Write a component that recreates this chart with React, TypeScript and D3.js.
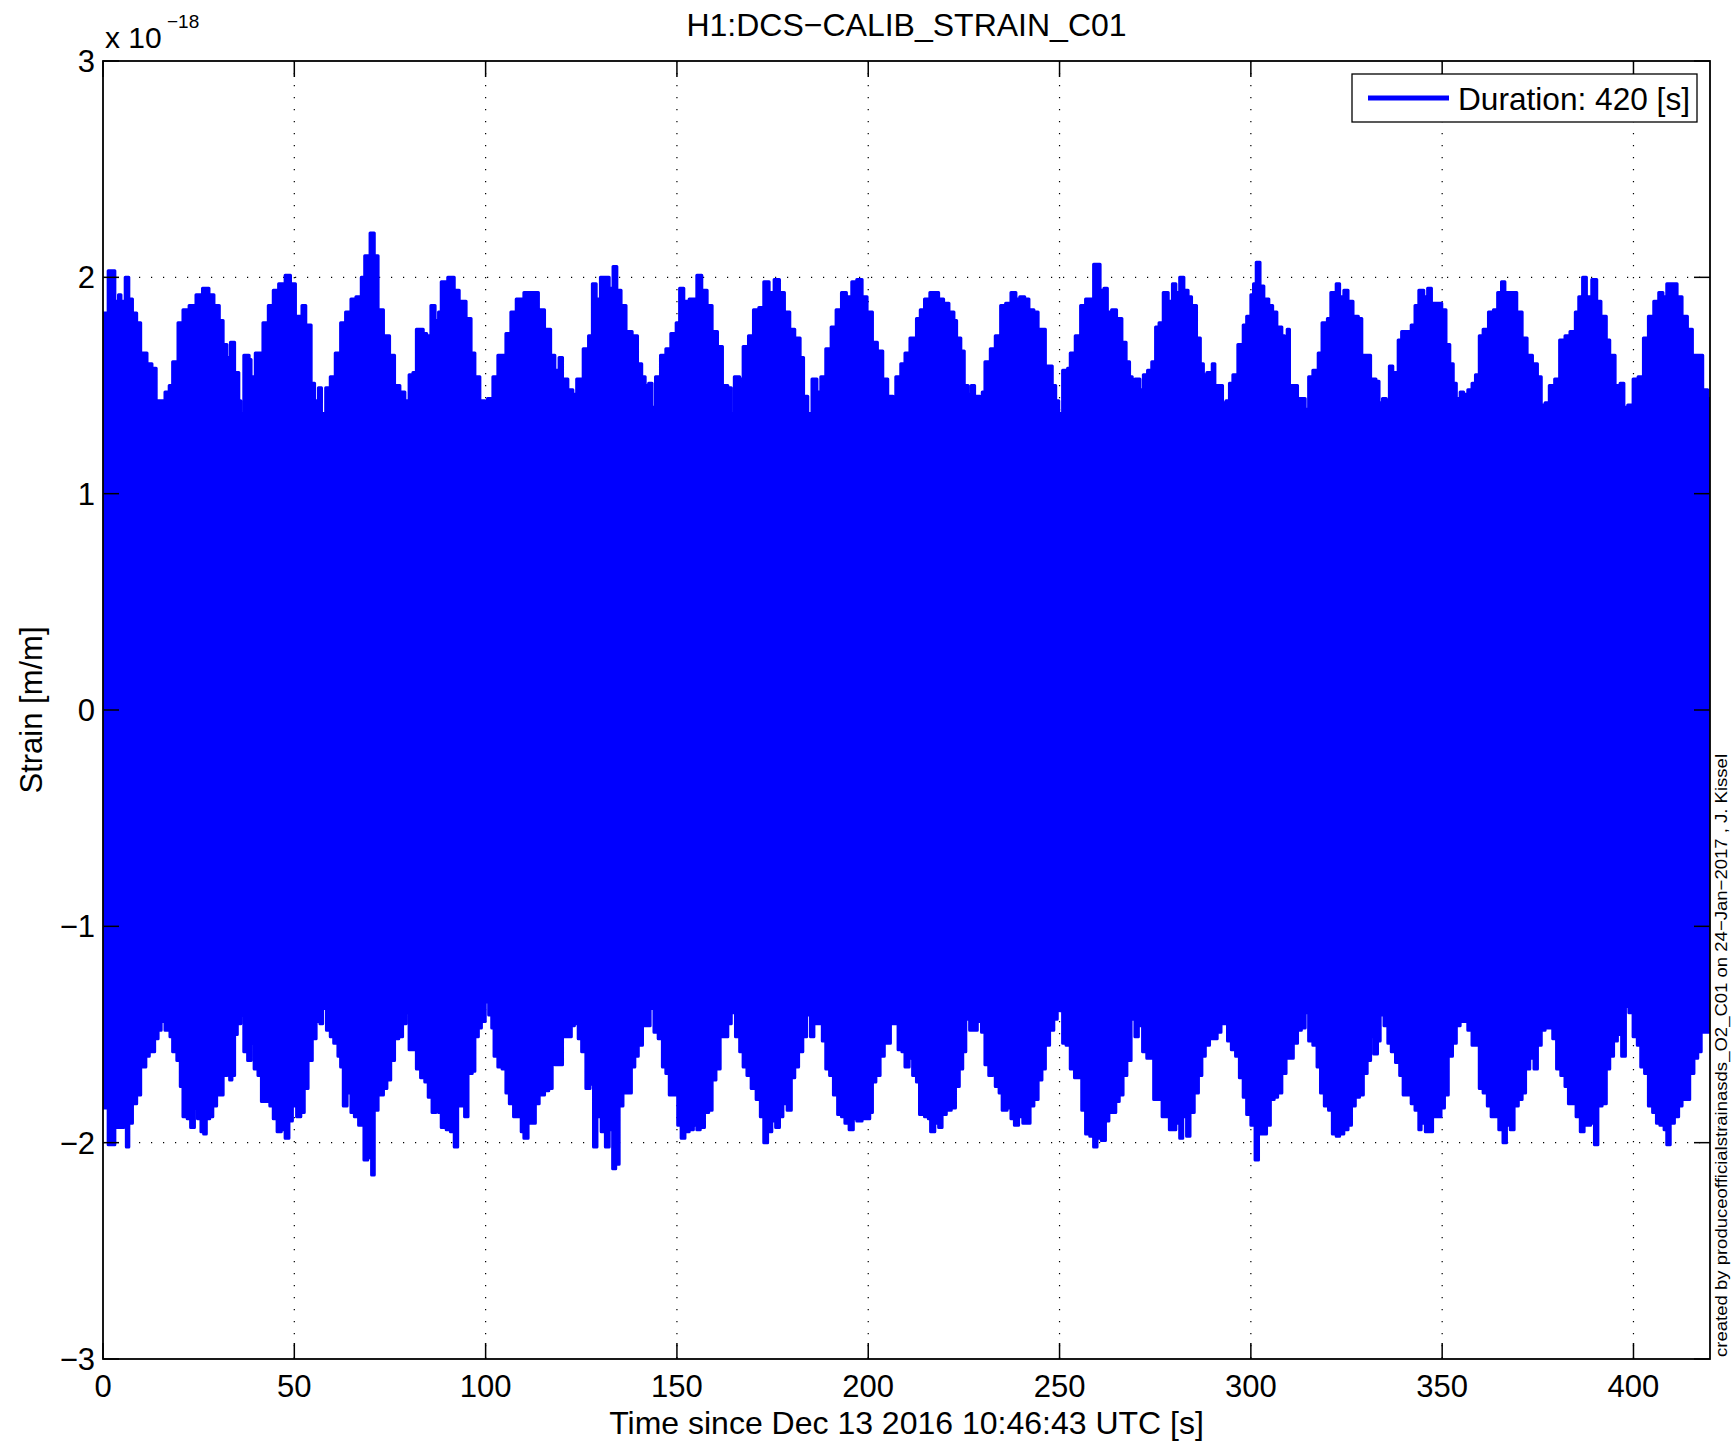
import React from "react";
import * as d3 from "d3";

// ---- data (strain in units of 1e-18, time in s) ----
const xTicks = [0, 50, 100, 150, 200, 250, 300, 350, 400];
const yTicks = [-3, -2, -1, 0, 1, 2, 3];
const yTickLabels = ["\u22123", "\u22122", "\u22121", "0", "1", "2", "3"];

const topTime = [0,1.35,2.3,3.1,4.05,4.7,5.8,6.75,7.7,8.8,9.85,11.5,12.8,13.9,15.5,16.2,17.3,18.2,19.6,20.9,22.5,24.3,26.0,27.7,29.0,30.4,31.4,32.4,33.3,34.4,35.5,36.0,36.8,38.2,38.7,39.8,41.8,43.2,44.5,45.9,47.6,49.0,50.3,52.0,53.0,54.4,55.3,56.3,57.1,58.2,59.4,60.7,62.1,63.4,64.8,66.1,67.5,68.4,69.8,70.9,71.9,73.3,74.9,76.2,77.6,78.9,80.0,81.0,81.9,83.7,84.6,85.7,86.8,87.7,88.4,90.1,91.8,93.1,94.9,96.2,97.2,98.5,99.9,100.5,101.9,103.2,105.3,106.6,108.0,110.0,112.0,113.8,115.4,117.0,118.1,119.2,120.1,121.5,122.8,123.8,125.5,126.9,127.9,128.9,130.0,130.9,132.3,133.3,134.3,135.4,136.7,138.3,139.7,140.8,141.7,142.6,143.5,144.4,145.7,147.1,148.4,149.8,150.7,151.8,153.2,155.2,156.5,157.9,159.2,160.6,161.9,163.3,164.2,165.0,166.4,167.3,168.7,170.0,171.4,172.7,174.1,175.4,176.8,178.1,179.5,180.8,182.2,183.1,184.2,185.3,186.6,187.6,188.9,190.3,191.6,193.0,194.3,195.7,197.0,198.4,199.7,201.1,202.4,203.8,205.1,206.5,207.2,208.5,209.6,210.9,212.0,212.6,213.6,214.7,216.1,217.0,218.4,219.7,221.1,222.4,223.1,224.2,225.1,226.1,226.9,227.8,229.2,229.8,230.5,231.9,233.2,234.6,235.9,237.3,238.6,239.6,240.9,242.0,243.3,244.4,245.4,246.3,247.4,248.1,249.0,249.8,250.8,252.1,252.8,254.1,255.5,256.8,257.9,258.9,259.8,260.6,261.6,262.5,263.6,264.9,266.3,267.4,268.3,269.0,269.7,271.0,271.9,273.0,274.1,275.1,276.0,277.1,278.4,279.5,280.4,281.4,282.5,283.6,284.5,285.8,286.8,287.6,288.5,289.9,290.6,291.7,292.6,293.5,294.4,295.3,296.6,298.0,298.9,300.0,300.7,301.4,302.4,303.4,304.7,305.7,306.8,308.1,308.8,309.5,310.1,311.1,312.2,313.2,314.2,315.1,316.2,317.6,318.6,320.0,320.9,322.3,323.2,324.3,325.4,326.7,328.1,329.0,330.4,331.3,332.7,333.5,334.4,335.4,336.2,337.1,338.5,339.4,340.8,341.9,342.9,343.9,345.2,346.2,347.2,348.6,349.9,351.0,352.0,352.9,353.7,354.7,355.6,356.7,357.8,358.7,359.7,360.7,362.1,363.4,364.5,365.5,366.4,368.2,369.5,370.9,372.2,373.6,374.9,375.9,376.9,378.0,379.4,380.7,382.1,383.4,384.8,385.7,386.7,387.7,389.1,390.4,391.5,392.9,393.8,395.2,396.5,397.5,398.5,399.9,401.2,402.6,403.9,405.3,406.6,407.7,408.7,410.0,411.4,412.7,414.1,415.4,416.8,418.1,419.4,420];
const topValue = [1.835,2.03,2.03,1.89,1.92,1.89,2.0,1.9,1.835,1.79,1.65,1.6,1.58,1.43,1.43,1.47,1.5,1.61,1.79,1.85,1.87,1.92,1.95,1.92,1.87,1.8,1.69,1.63,1.7,1.56,1.43,1.37,1.64,1.62,1.54,1.65,1.79,1.87,1.94,1.97,2.01,1.97,1.82,1.87,1.78,1.51,1.43,1.49,1.37,1.49,1.54,1.65,1.79,1.84,1.9,1.91,2.0,2.1,2.205,2.1,1.85,1.73,1.64,1.5,1.47,1.43,1.55,1.56,1.76,1.74,1.73,1.87,1.8,1.84,1.98,2.0,1.94,1.89,1.81,1.65,1.54,1.43,1.37,1.44,1.54,1.64,1.74,1.84,1.9,1.93,1.93,1.85,1.76,1.64,1.57,1.63,1.53,1.48,1.46,1.53,1.67,1.73,1.97,1.9,2.0,2.0,1.95,2.05,1.94,1.87,1.75,1.73,1.6,1.54,1.5,1.51,1.4,1.54,1.64,1.67,1.74,1.79,1.95,1.89,1.9,2.01,1.94,1.87,1.75,1.68,1.5,1.49,1.37,1.54,1.53,1.68,1.73,1.85,1.86,1.98,1.93,1.99,1.93,1.84,1.76,1.72,1.63,1.45,1.37,1.53,1.47,1.54,1.67,1.77,1.85,1.93,1.91,1.98,1.99,1.91,1.84,1.7,1.66,1.53,1.45,1.44,1.54,1.6,1.65,1.72,1.72,1.81,1.85,1.9,1.93,1.93,1.9,1.88,1.84,1.8,1.72,1.66,1.5,1.46,1.5,1.45,1.4,1.47,1.61,1.67,1.73,1.87,1.88,1.93,1.9,1.91,1.9,1.85,1.84,1.76,1.76,1.59,1.59,1.5,1.43,1.37,1.57,1.58,1.65,1.73,1.87,1.9,1.9,2.06,2.06,1.94,1.95,1.84,1.85,1.81,1.7,1.61,1.54,1.43,1.53,1.48,1.55,1.57,1.61,1.77,1.79,1.93,1.89,1.97,1.93,2.0,1.94,1.91,1.87,1.72,1.6,1.55,1.56,1.6,1.5,1.5,1.42,1.43,1.51,1.55,1.69,1.78,1.82,1.92,1.97,2.07,1.96,1.9,1.87,1.84,1.77,1.73,1.54,1.76,1.5,1.5,1.44,1.44,1.39,1.54,1.57,1.65,1.79,1.81,1.93,1.97,1.91,1.94,1.89,1.82,1.81,1.64,1.64,1.53,1.52,1.42,1.44,1.43,1.59,1.56,1.71,1.75,1.75,1.78,1.87,1.94,1.91,1.95,1.88,1.88,1.85,1.69,1.6,1.51,1.44,1.47,1.46,1.48,1.51,1.55,1.73,1.76,1.84,1.85,1.93,1.98,1.93,1.93,1.84,1.72,1.64,1.6,1.54,1.41,1.42,1.5,1.53,1.71,1.73,1.75,1.84,1.91,2.0,1.91,1.99,1.89,1.82,1.71,1.64,1.5,1.51,1.4,1.41,1.53,1.54,1.72,1.82,1.89,1.93,1.91,1.97,1.97,1.91,1.82,1.76,1.64,1.64,1.48,1.44,1.44];

const bottomTime = [0,1.35,2.3,3.1,4.45,5.4,6.1,6.75,7.7,8.8,9.85,11.2,12.1,13.5,14.4,15.2,16.2,17.5,18.2,19.3,20.2,20.9,22.0,22.9,23.9,24.7,25.6,26.3,27.0,27.9,28.7,29.7,30.6,31.4,32.4,33.1,33.7,34.4,35.1,36.0,36.8,37.8,38.7,39.5,40.5,41.4,42.5,43.6,44.5,45.5,46.6,47.6,48.6,49.5,50.6,51.7,52.6,53.6,54.7,55.7,56.7,57.4,58.4,59.4,60.3,61.4,62.1,62.8,63.8,64.8,65.7,66.8,68.2,69.2,70.2,70.9,71.9,73.3,74.2,75.2,76.2,77.3,78.3,79.2,80.0,81.0,81.9,83.0,84.1,85.0,86.0,87.0,87.7,88.4,89.7,90.8,91.8,92.7,93.5,94.5,95.4,96.5,97.2,98.1,98.9,99.9,100.8,101.6,102.2,103.2,104.3,105.3,106.2,107.3,108.4,109.3,110.0,111.1,112.0,113.0,114.0,115.4,116.5,117.4,118.1,119.2,120.1,121.5,122.4,123.2,124.2,125.1,126.2,127.3,128.2,129.1,130.2,131.3,132.3,133.2,134.0,134.9,135.9,137.0,138.1,139.0,139.9,141.0,142.1,143.0,144.0,145.1,146.2,147.1,148.0,149.1,150.2,151.1,152.1,153.2,154.3,155.2,156.1,157.2,158.3,159.2,160.2,161.3,162.3,163.3,164.2,165.3,166.4,167.3,168.3,169.4,170.7,171.8,172.7,173.7,174.8,175.8,176.8,177.7,178.8,179.9,180.8,181.8,182.9,183.9,184.9,185.8,186.9,188.0,188.9,189.9,190.9,192.0,193.0,193.9,195.0,196.1,197.0,198.4,199.3,200.4,201.1,202.0,203.1,204.2,205.1,205.8,206.9,207.8,208.8,209.6,210.7,211.6,212.6,213.4,214.7,215.7,216.3,217.4,218.4,219.3,220.4,221.7,222.8,223.8,224.7,225.5,226.5,227.4,228.5,229.6,230.5,231.5,232.5,233.2,234.2,235.0,236.3,237.3,238.2,239.3,240.4,241.3,242.3,243.3,244.4,245.4,246.3,247.4,248.5,249.4,250.1,250.8,251.7,252.8,253.9,254.8,255.8,256.8,257.9,258.9,259.8,260.9,262.0,262.9,263.9,264.7,265.6,266.6,267.6,268.7,269.7,270.6,271.7,272.8,273.7,274.6,275.7,276.8,277.8,278.7,279.8,280.4,281.4,282.2,283.2,284.1,285.2,286.3,287.2,288.1,289.2,290.3,291.2,292.2,293.3,293.9,294.9,296.0,297.0,298.0,298.9,300.0,301.1,302.0,303.0,304.1,305.1,306.1,307.0,308.1,309.2,310.1,311.1,312.2,313.2,314.2,315.1,316.2,317.3,318.2,319.2,320.3,321.3,322.3,323.2,324.3,325.4,326.3,327.3,328.4,329.4,330.4,331.3,332.1,333.1,333.8,334.8,335.8,336.7,337.8,338.9,339.8,340.8,341.9,342.9,343.9,344.5,345.6,346.6,347.5,348.6,349.7,350.6,351.6,352.7,353.7,354.7,355.6,356.7,357.8,358.7,359.7,360.7,361.8,362.8,363.7,364.8,365.9,366.8,367.8,368.8,369.9,370.9,371.8,372.9,374.0,374.9,375.9,376.9,378.0,378.9,379.9,381.0,382.1,383.0,384.0,385.0,386.1,387.1,388.0,388.8,389.8,390.7,391.8,392.9,393.8,394.8,395.8,396.9,397.9,398.8,399.9,401.0,401.9,402.9,403.9,405.0,406.0,406.9,408.0,408.7,409.6,410.7,411.8,412.7,413.6,414.7,415.8,416.8,417.7,418.8,420];
const bottomValue = [-1.84,-2.01,-2.01,-1.93,-1.93,-1.86,-2.02,-1.91,-1.82,-1.78,-1.65,-1.6,-1.58,-1.52,-1.48,-1.44,-1.48,-1.51,-1.58,-1.62,-1.74,-1.88,-1.89,-1.93,-1.84,-1.89,-1.95,-1.96,-1.89,-1.88,-1.83,-1.78,-1.78,-1.69,-1.61,-1.71,-1.69,-1.5,-1.45,-1.41,-1.58,-1.62,-1.54,-1.66,-1.69,-1.81,-1.81,-1.83,-1.89,-1.95,-1.94,-1.98,-1.9,-1.83,-1.88,-1.86,-1.75,-1.62,-1.52,-1.44,-1.45,-1.38,-1.48,-1.51,-1.54,-1.6,-1.65,-1.83,-1.77,-1.86,-1.88,-1.92,-2.08,-2.07,-2.15,-1.85,-1.78,-1.75,-1.71,-1.62,-1.52,-1.51,-1.45,-1.4,-1.57,-1.57,-1.66,-1.7,-1.72,-1.79,-1.86,-1.82,-1.86,-1.93,-1.94,-1.95,-2.02,-1.83,-1.83,-1.88,-1.68,-1.67,-1.51,-1.47,-1.44,-1.35,-1.41,-1.47,-1.6,-1.65,-1.66,-1.77,-1.82,-1.88,-1.88,-1.95,-1.98,-1.91,-1.91,-1.82,-1.78,-1.76,-1.75,-1.55,-1.64,-1.64,-1.51,-1.51,-1.46,-1.45,-1.52,-1.58,-1.75,-1.73,-2.02,-1.88,-1.95,-2.02,-1.94,-2.12,-2.1,-1.83,-1.77,-1.77,-1.65,-1.6,-1.55,-1.46,-1.46,-1.38,-1.49,-1.52,-1.65,-1.68,-1.78,-1.78,-1.92,-1.98,-1.95,-1.94,-1.92,-1.94,-1.93,-1.86,-1.85,-1.71,-1.66,-1.51,-1.51,-1.45,-1.4,-1.51,-1.58,-1.65,-1.69,-1.75,-1.8,-1.88,-2.0,-1.95,-1.9,-1.93,-1.88,-1.82,-1.85,-1.7,-1.65,-1.58,-1.51,-1.41,-1.51,-1.45,-1.45,-1.53,-1.66,-1.69,-1.78,-1.87,-1.88,-1.91,-1.94,-1.89,-1.9,-1.89,-1.89,-1.86,-1.72,-1.69,-1.6,-1.54,-1.54,-1.45,-1.45,-1.57,-1.58,-1.65,-1.61,-1.69,-1.72,-1.87,-1.88,-1.89,-1.95,-1.91,-1.93,-1.87,-1.85,-1.84,-1.74,-1.66,-1.58,-1.43,-1.48,-1.48,-1.44,-1.49,-1.64,-1.69,-1.64,-1.74,-1.77,-1.85,-1.84,-1.89,-1.92,-1.88,-1.91,-1.91,-1.83,-1.8,-1.71,-1.66,-1.55,-1.48,-1.43,-1.37,-1.39,-1.54,-1.55,-1.66,-1.7,-1.7,-1.85,-1.96,-1.97,-2.02,-1.98,-1.99,-1.9,-1.86,-1.86,-1.81,-1.78,-1.69,-1.62,-1.43,-1.51,-1.46,-1.58,-1.61,-1.61,-1.8,-1.8,-1.88,-1.88,-1.94,-1.94,-1.91,-1.98,-1.88,-1.97,-1.86,-1.77,-1.69,-1.6,-1.55,-1.52,-1.52,-1.49,-1.45,-1.41,-1.53,-1.57,-1.6,-1.7,-1.79,-1.87,-1.92,-2.08,-1.96,-1.96,-1.92,-1.8,-1.79,-1.77,-1.68,-1.61,-1.61,-1.54,-1.48,-1.47,-1.4,-1.53,-1.55,-1.65,-1.77,-1.83,-1.85,-1.96,-1.97,-1.96,-1.94,-1.92,-1.83,-1.79,-1.78,-1.68,-1.62,-1.51,-1.59,-1.53,-1.41,-1.46,-1.54,-1.58,-1.63,-1.69,-1.78,-1.78,-1.82,-1.85,-1.94,-1.91,-1.95,-1.95,-1.88,-1.88,-1.84,-1.78,-1.6,-1.54,-1.46,-1.44,-1.44,-1.48,-1.55,-1.55,-1.75,-1.77,-1.83,-1.88,-1.88,-1.94,-2.0,-1.92,-1.94,-1.83,-1.8,-1.77,-1.66,-1.61,-1.66,-1.55,-1.48,-1.47,-1.47,-1.52,-1.66,-1.69,-1.74,-1.82,-1.82,-1.88,-1.95,-1.92,-1.92,-1.91,-2.01,-1.83,-1.82,-1.66,-1.6,-1.53,-1.5,-1.6,-1.37,-1.4,-1.51,-1.55,-1.65,-1.68,-1.83,-1.86,-1.91,-1.92,-1.94,-2.01,-1.91,-1.88,-1.83,-1.8,-1.8,-1.68,-1.61,-1.58,-1.49,-1.49,-1.49];

const titleText = "H1:DCS\u2212CALIB_STRAIN_C01";
const xLabel = "Time since Dec 13 2016 10:46:43 UTC [s]";
const yLabel = "Strain [m/m]";
const legendLabel = "Duration: 420 [s]";
const creditText = "created by produceofficialstrainasds_O2_C01 on 24\u2212Jan\u22122017 , J. Kissel";

const W = 1732;
const H = 1442;
const L = 103, R = 1710, T = 61, B = 1359;
const FONT = "'Liberation Sans', Arial, Helvetica, sans-serif";
const BLUE = "#0000ff";

export default function App() {
  const x = d3.scaleLinear().domain([0, 420]).range([L, R]);
  const y = d3.scaleLinear().domain([-3, 3]).range([B, T]);

  const top = topTime.map((t, i) => [t, topValue[i]] as [number, number]);
  const bot = bottomTime.map((t, i) => [t, bottomValue[i]] as [number, number]);

  const area = d3.area<[number, number]>()
    .x((d) => x(d[0]))
    .y0(() => y(0))
    .y1((d) => y(d[1]))
    .curve(d3.curveStepAfter);
  const line = d3.line<[number, number]>()
    .x((d) => x(d[0]))
    .y((d) => y(d[1]))
    .curve(d3.curveStepAfter);

  const tickLen = 16;
  const fs = 31;

  return (
    <svg width={W} height={H} style={{ position: "absolute", left: 0, top: 0, background: "#fff" }} fontFamily={FONT}>
      <rect x={0} y={0} width={W} height={H} fill="#fff" />
      <defs>
        <clipPath id="plotclip">
          <rect x={L} y={T} width={R - L} height={B - T} />
        </clipPath>
      </defs>
      {/* grid */}
      <g stroke="#000" strokeWidth={1.2} strokeDasharray="1.2,10.8">
        {xTicks.filter((t) => t > 0).map((t) => (
          <line key={"gx" + t} x1={x(t)} x2={x(t)} y1={T} y2={B} />
        ))}
        {yTicks.filter((t) => t > -3 && t < 3).map((t) => (
          <line key={"gy" + t} x1={L} x2={R} y1={y(t)} y2={y(t)} />
        ))}
      </g>
      {/* data */}
      <g clipPath="url(#plotclip)">
        <path d={area(top) || ""} fill={BLUE} />
        <path d={area(bot) || ""} fill={BLUE} />
        <path d={line(top) || ""} fill="none" stroke={BLUE} strokeWidth={3} strokeLinejoin="round" strokeLinecap="round" />
        <path d={line(bot) || ""} fill="none" stroke={BLUE} strokeWidth={3} strokeLinejoin="round" strokeLinecap="round" />
      </g>
      {/* ticks */}
      <g stroke="#000" strokeWidth={1.5}>
        {xTicks.map((t) => (
          <g key={"tx" + t}>
            <line x1={x(t)} x2={x(t)} y1={B} y2={B - tickLen} />
            <line x1={x(t)} x2={x(t)} y1={T} y2={T + tickLen} />
          </g>
        ))}
        {yTicks.map((t) => (
          <g key={"ty" + t}>
            <line x1={L} x2={L + tickLen} y1={y(t)} y2={y(t)} />
            <line x1={R} x2={R - tickLen} y1={y(t)} y2={y(t)} />
          </g>
        ))}
      </g>
      {/* box */}
      <rect x={L} y={T} width={R - L} height={B - T} fill="none" stroke="#000" strokeWidth={1.8} />
      {/* tick labels */}
      <g fontSize={fs} fill="#000">
        {xTicks.map((t) => (
          <text key={"lx" + t} x={x(t)} y={1397} textAnchor="middle">{t}</text>
        ))}
        {yTicks.map((t, i) => (
          <text key={"ly" + t} x={95} y={y(t) + 11} textAnchor="end">{yTickLabels[i]}</text>
        ))}
      </g>
      {/* exponent */}
      <text x={105} y={48} fontSize={30} fill="#000">x 10</text>
      <text x={167} y={28} fontSize={19} fill="#000">{"\u221218"}</text>
      {/* title and labels */}
      <text x={(L + R) / 2} y={36} fontSize={32} textAnchor="middle" fill="#000">{titleText}</text>
      <text x={(L + R) / 2} y={1434} fontSize={32} textAnchor="middle" fill="#000">{xLabel}</text>
      <text transform={`translate(42,${(T + B) / 2}) rotate(-90)`} fontSize={31} textAnchor="middle" fill="#000">{yLabel}</text>
      <text transform={`translate(1727,1357) rotate(-90)`} fontSize={17} textLength={603} lengthAdjust="spacingAndGlyphs" fill="#000">{creditText}</text>
      {/* legend */}
      <rect x={1352} y={74} width={345} height={48} fill="#fff" stroke="#000" strokeWidth={1.3} />
      <line x1={1368} x2={1449} y1={98} y2={98} stroke={BLUE} strokeWidth={5} />
      <text x={1458} y={110} fontSize={32} textLength={232} lengthAdjust="spacingAndGlyphs" fill="#000">{legendLabel}</text>
    </svg>
  );
}
